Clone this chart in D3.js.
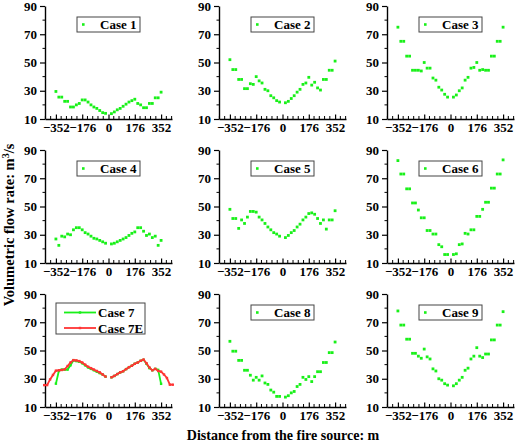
<!DOCTYPE html>
<html><head><meta charset="utf-8">
<script src="https://cdn.jsdelivr.net/npm/d3@7"></script>
<style>
body{margin:0;background:#fff}
svg text{font-family:'Liberation Serif','DejaVu Serif',serif !important;font-weight:bold;fill:#000}
</style>
</head><body><svg id="c" width="520" height="443"></svg>
<script>
// ---------- data ----------
const distance = [-352,-332.4,-312.9,-293.3,-273.8,-254.2,-234.7,-215.1,-195.6,-176,-156.4,-136.9,-117.3,-97.8,-78.2,-58.7,-39.1,-19.6,
                   19.6,39.1,58.7,78.2,97.8,117.3,136.9,156.4,176,195.6,215.1,234.7,254.2,273.8,293.3,312.9,332.4,352];
const distance7E = [-430.2,-410.7,-391.1,-371.6,-352,-332.4,-312.9,-293.3,-273.8,-254.2,-234.7,-215.1,-195.6,-176,-156.4,-136.9,-117.3,-97.8,-78.2,-58.7,-39.1,-19.6,
                   19.6,39.1,58.7,78.2,97.8,117.3,136.9,156.4,176,195.6,215.1,234.7,254.2,273.8,293.3,312.9,332.4,352,371.6,391.1,410.7,430.2];
const xTicks = [-352,-176,0,176,352];
const yTicks = [10,30,50,70,90];

const case1 = [29.5,25.5,25.5,22.5,22.5,18.5,18.5,20,21,23.5,23.5,22,20,18.5,17.5,16,14.5,14,
               13.8,15,16.5,17.5,19,20.5,22,23,24,21,20,18,18,21,21,25,25,29];
const case2 = [52,45,45,38,38,31.5,31.5,35,34.5,40,37,35.5,31,30,26.5,25,23,22,
               21.5,22.5,24.5,26.5,29,31,34.5,35.5,39.5,34,36,32,30.5,38,38,44.5,44.5,51];
const case3 = [75,65,65,54.5,54.5,44.5,44.5,44.5,44,50,46,46,39,37.5,32.5,30.5,27.5,25.5,
               25.5,27,30,32,37.5,39.5,46,46.5,50,44.5,45,44.5,44.5,54.5,54.5,65,65,75];
const case4 = [27,22.5,29,28.5,30.5,30,33.5,35,35,33.5,31.5,30.5,29,27.5,27,26,25,24,
               23.5,24,25,26,27,28,29.5,31,32,35,35,32.5,29.5,30.5,28,29,22.5,26];
const case5 = [48,41.5,41.5,34.5,40.5,38,42.5,46.5,46.5,46,42.5,40.5,38,35.5,33.5,31.5,30.5,29,
               28,29.5,31.5,33,35.5,37.5,40.5,42.5,45,45.5,44.5,41.5,38,40.5,34,40.5,40.5,47];
const case6 = [82.5,73,73,62.5,62.5,52.5,52.5,47.5,42,42,33,33,30.5,30.5,23,21.5,16,16,
               16,16.5,23,23.5,31,30.5,33.5,33.5,43,43,48,53,53,63,63,73,73,83];
const case7 = [26.5,35.5,36.5,36.5,36.5,39.5,43,42.5,42,41,39.5,38,37,36,35,34,33,31.5,
               31,32,33.3,34.5,35.3,36.8,38.2,39.2,40.6,41.5,42.7,43.4,40.6,37.5,36,37,36.3,26.4];
const case7E = [25.5,25.5,29.5,32.7,35.7,36,36.2,36.7,39,41.5,43.2,43,42.5,41.5,40,38.5,37.5,36.5,35.5,34.5,33,31.5,
               31,32,33.3,34.5,35.3,36.8,38.2,39.2,40.6,41.5,42.7,43.6,41,38,36,37,35.5,35,33,30.5,25.8,25.8];
const case8 = [56.5,49.5,49.5,43,43,36,36,32.5,29,31,29,32,27,26,22,20.5,17.5,17.5,
               17,18,20,21,24.5,26,31,29.5,31.5,28,31.5,35,35,41.5,41.5,48.5,48.5,56];
const case9 = [78,68,68,58,58,48,48,46,44.5,51,45.5,44,37,35.5,30,29,26.5,25.5,
               25,26.5,29,31,36,37.5,44,46,52,46,45,47.5,47.5,57.5,57.5,68,68,77.5];

const caseNames = ["Case 1","Case 2","Case 3","Case 4","Case 5","Case 6","Case 7","Case 8","Case 9"];
const caseValues = [case1,case2,case3,case4,case5,case6,case7,case8,case9];

// ---------- layout ----------
const FONT = "'Liberation Serif','DejaVu Serif',serif";
const GREEN = "#19f019", RED = "#ff3434";
const colX = [45, 219, 387];
const rowY = [6, 150, 294];
const PW = 127, PH = 113;
const svg = d3.select("#c").attr("font-family", FONT);

caseNames.forEach((name, i) => {
  const col = i % 3, row = Math.floor(i / 3);
  const g = svg.append("g").attr("transform", `translate(${colX[col]},${rowY[row]})`);
  const x = d3.scaleLinear().domain([-425, 425]).range([0, PW]);
  const y = d3.scaleLinear().domain([10, 90]).range([PH, 0]);

  // y axis
  const ya = g.append("g").call(d3.axisLeft(y).tickValues(yTicks).tickSize(5).tickSizeOuter(0).tickPadding(3));
  ya.attr("font-family", FONT);
  ya.selectAll("text").style("font-size", "13px").style("font-family", FONT);
  ya.select(".domain").attr("stroke-width", 1.4);
  ya.selectAll(".tick line").attr("stroke-width", 1.2);
  g.append("g").selectAll("line").data([20,40,60,80]).join("line")
    .attr("x1", 0).attr("x2", -2.5).attr("y1", d => y(d)).attr("y2", d => y(d))
    .attr("stroke", "#000").attr("stroke-width", 1);

  // x axis
  const xa = g.append("g").attr("transform", `translate(0,${PH})`)
    .call(d3.axisBottom(x).tickValues(xTicks).tickSize(-4.5).tickSizeOuter(0).tickPadding(4)
      .tickFormat(d => d < 0 ? "\u2212" + Math.abs(d) : d));
  xa.attr("font-family", FONT);
  xa.selectAll("text").style("font-size", "13px").style("font-family", FONT);
  xa.select(".domain").attr("stroke-width", 1.4);
  xa.selectAll(".tick line").attr("stroke-width", 1.2);
  const minor = d3.range(-12, 13).map(k => k * 35.2).filter(v => Math.abs(v) <= 425 && Math.abs(v % 176) > 1);
  g.append("g").selectAll("line").data(minor).join("line")
    .attr("x1", d => x(d)).attr("x2", d => x(d)).attr("y1", PH).attr("y2", PH - 3)
    .attr("stroke", "#000").attr("stroke-width", 1);

  if (i === 6) {
    const line = d3.line().x(d => x(d[0])).y(d => y(d[1]));
    const drawSeries = (xs, vs, color) => {
      const pts = xs.map((d, k) => [d, vs[k]]);
      [pts.filter(p => p[0] < 0), pts.filter(p => p[0] > 0)].forEach(seg => {
        g.append("path").datum(seg).attr("d", line).attr("fill", "none")
          .attr("stroke", color).attr("stroke-width", 1.8);
      });
      g.append("g").selectAll("rect").data(pts).join("rect")
        .attr("x", p => x(p[0]) - 1.2).attr("y", p => y(p[1]) - 1.2)
        .attr("width", 2.4).attr("height", 2.4).attr("fill", color);
    };
    drawSeries(distance, case7, GREEN);
    drawSeries(distance7E, case7E, RED);
    const lg = g.append("g").attr("transform", "translate(11,9)");
    lg.append("rect").attr("x", 0).attr("y", 0).attr("width", 89).attr("height", 31)
      .attr("fill", "#fff").attr("stroke", "#444").attr("stroke-width", 1);
    [["Case 7", GREEN, 9.5], ["Case 7E", RED, 25]].forEach(([t, c, yy]) => {
      lg.append("line").attr("x1", 8).attr("x2", 40).attr("y1", yy).attr("y2", yy)
        .attr("stroke", c).attr("stroke-width", 1.8);
      lg.append("rect").attr("x", 22.8).attr("y", yy - 1.2).attr("width", 2.4).attr("height", 2.4).attr("fill", c);
      lg.append("text").attr("x", 42).attr("y", yy + 4.5).style("font-size", "13px").style("font-family", FONT).text(t);
    });
  } else {
    const vals = caseValues[i];
    g.append("g").selectAll("rect").data(distance).join("rect")
      .attr("x", (d) => x(d) - 1.4).attr("y", (d, k) => y(vals[k]) - 1.4)
      .attr("width", 2.8).attr("height", 2.8).attr("fill", GREEN);
    const lg = g.append("g").attr("transform", `translate(32,11)`);
    lg.append("rect").attr("x", 0).attr("y", 0).attr("width", 63).attr("height", 15)
      .attr("fill", "#fff").attr("stroke", "#444").attr("stroke-width", 1);
    lg.append("rect").attr("x", 5).attr("y", 6.2).attr("width", 2.6).attr("height", 2.6).attr("fill", GREEN);
    lg.append("text").attr("x", 23).attr("y", 11.8).style("font-size", "13px").style("font-family", FONT).text(name);
  }
});

// axis titles
svg.append("text").attr("transform", "translate(14,225) rotate(-90)").attr("text-anchor", "middle")
  .style("font-size", "14.5px").style("font-family", FONT)
  .call(t => {
    t.append("tspan").text("Volumetric flow rate: m");
    t.append("tspan").attr("baseline-shift", "super").style("font-size", "10px").text("3");
    t.append("tspan").text("/s");
  });
svg.append("text").attr("x", 283).attr("y", 440).attr("text-anchor", "middle")
  .style("font-size", "14px").style("font-family", FONT).text("Distance from the fire source: m");
</script></body></html>
